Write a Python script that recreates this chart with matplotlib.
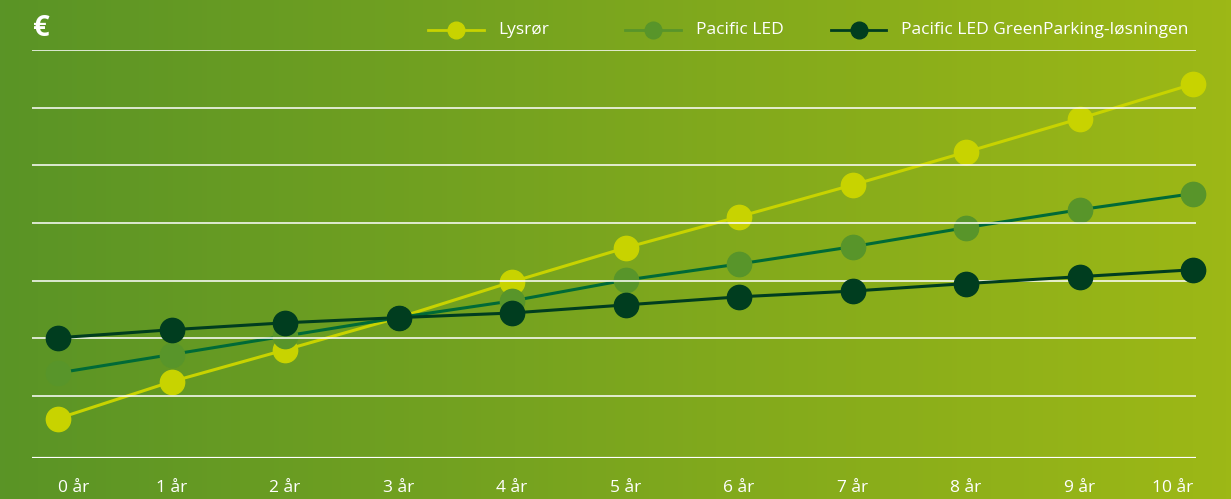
import numpy as np
import matplotlib.pyplot as plt
from matplotlib.colors import LinearSegmentedColormap

years = list(range(11))
tick_labels = ['%d år' % y for y in years]

lysror = [0.61, 1.25, 1.80, 2.36, 2.98, 3.57, 4.11, 4.66, 5.23, 5.81, 6.41]
pacific = [1.40, 1.72, 2.04, 2.36, 2.65, 3.01, 3.29, 3.59, 3.92, 4.23, 4.51]
greenparking = [2.01, 2.15, 2.27, 2.36, 2.44, 2.58, 2.72, 2.82, 2.95, 3.07, 3.19]

names = ['Lysrør', 'Pacific LED', 'Pacific LED GreenParking-løsningen']

plt.rcParams['font.family'] = ['Open Sans', 'DejaVu Sans']

fig = plt.figure(figsize=(12.31, 4.99), dpi=100)

# background gradient
bg = fig.add_axes([0, 0, 1, 1], zorder=-10)
cmap = LinearSegmentedColormap.from_list('bg', ['#5a9426', '#9db816'])
bg.imshow(np.linspace(0, 1, 256).reshape(1, -1), aspect='auto', cmap=cmap,
          extent=[0, 1, 0, 1])
bg.axis('off')

ax = fig.add_axes([0.026, 0.0822, 0.9456, 0.8176])
ax.patch.set_alpha(0)
ax.set_xlim(-0.229, 10.026)
ax.set_ylim(-0.074, 7)

for y in range(1, 8):
    ax.axhline(y, color='white', lw=1.1, zorder=2.5)
ax.axhline(-0.074, color='white', lw=2.3, zorder=2.5)

ax.plot(years, lysror, color='#c8d300', lw=2.2, marker='o', ms=17.5,
        clip_on=False, zorder=2)
ax.plot(years, pacific, color='#006a37', lw=2.2, marker='o', ms=17.5,
        mfc='#58952a', mec='#58952a', clip_on=False, zorder=2.2)
ax.plot(years, greenparking, color='#003d1f', lw=2.2, marker='o', ms=17.5,
        clip_on=False, zorder=3)

for s in ax.spines.values():
    s.set_visible(False)
ax.set_yticks([])
ax.set_xticks(years)
labels = ax.set_xticklabels(tick_labels, color='white', fontsize=12.5)
labels[0].set_ha('left')
labels[-1].set_ha('right')
ax.tick_params(axis='x', length=0, pad=16)

fig.text(0.027, 0.943, '€', color='white', fontsize=21, fontweight='bold',
         va='center', ha='left')

# legend
leg_items = [(0.348, '#c8d300', '#c8d300'),
             (0.508, '#58952a', '#58952a'),
             (0.675, '#003d1f', '#003d1f')]
for (x, lc, mc), name in zip(leg_items, names):
    fig.lines.append(plt.Line2D([x, x + 0.045], [0.94, 0.94], color=lc, lw=2,
                                transform=fig.transFigure))
    fig.lines.append(plt.Line2D([x + 0.0225], [0.94], color=mc, marker='o',
                                ms=12, transform=fig.transFigure))
    fig.text(x + 0.057, 0.94, name, color='white', fontsize=12.5,
             va='center', ha='left')

fig.savefig('out.png', dpi=100)
